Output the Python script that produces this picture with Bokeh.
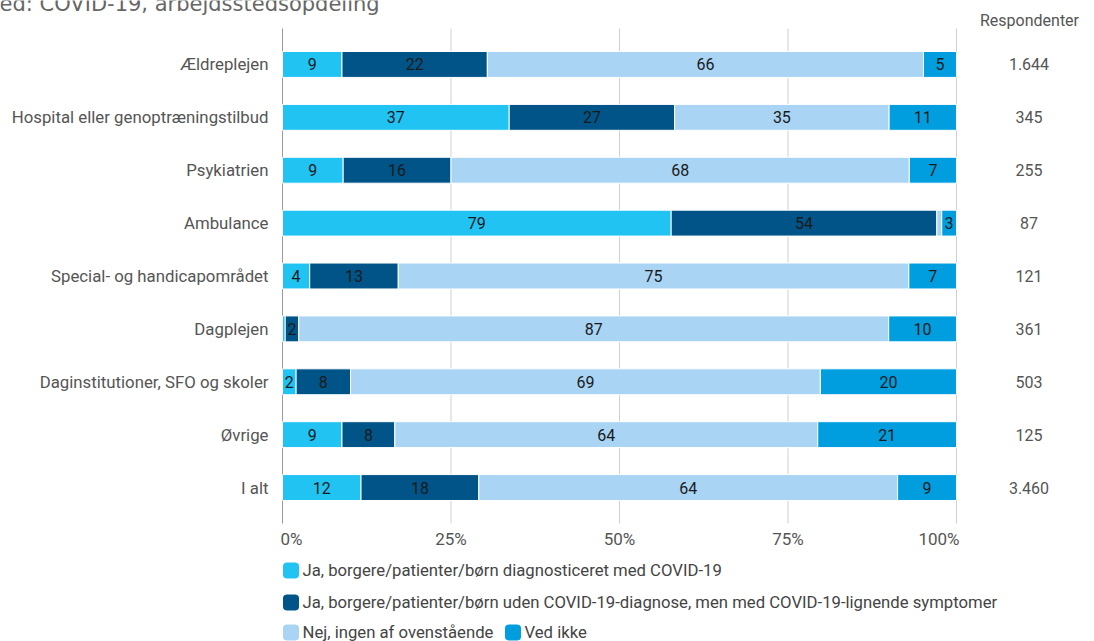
from bokeh.plotting import figure
from bokeh.models import ColumnDataSource, Range1d
from bokeh.embed import file_html
from bokeh.resources import INLINE
from bokeh.core.properties import value

categories = ["Ældreplejen", "Hospital eller genoptræningstilbud", "Psykiatrien", "Ambulance",
              "Special- og handicapområdet", "Dagplejen", "Daginstitutioner, SFO og skoler",
              "Øvrige", "I alt"]
series_names = ["Ja, borgere/patienter/børn diagnosticeret med COVID-19",
                "Ja, borgere/patienter/børn uden COVID-19-diagnose, men med COVID-19-lignende symptomer",
                "Nej, ingen af ovenstående", "Ved ikke"]
diagnosed = [9, 37, 9, 79, 4, 0.4, 2, 9, 12]
symptoms = [22, 27, 16, 54, 13, 2, 8, 8, 18]
none_above = [66, 35, 68, 1, 75, 87, 69, 64, 64]
dont_know = [5, 11, 7, 3, 7, 10, 20, 21, 9]
respondents = ["1.644", "345", "255", "87", "121", "361", "503", "125", "3.460"]
tick_values = [0, 25, 50, 75, 100]
tick_labels = ["0%", "25%", "50%", "75%", "100%"]
colors = ["#21C3F3", "#005488", "#A9D4F4", "#009EDF"]
chart_title = "ed: COVID-19, arbejdsstedsopdeling"
resp_header = "Respondenter"

FONT = "Roboto"
W, H = 1094, 641
n = len(categories)
pos = [n - 1 - i for i in range(n)]
series = [diagnosed, symptoms, none_above, dont_know]
keys = ["s0", "s1", "s2", "s3"]

# canvas geometry: plot area from x=282..956 px (0..100 %), rows 52.885 px apart
PX_X = 6.74            # px per percent
PX_Y = 52.885          # px per category step
FRAME_LEFT = 282
Y_TOP_PX = 28          # top of plot area (px from canvas top)
y_area_top = n - 1 + 0.68
y_area_bot = -0.68

x0 = -FRAME_LEFT / PX_X
x1 = (W - FRAME_LEFT) / PX_X
y1 = y_area_top + Y_TOP_PX / PX_Y
y0 = y1 - H / PX_Y


def X(px):
    return x0 + px / PX_X


def Y(px):
    return y1 - px / PX_Y


data = {"pos": pos}
for k in keys:
    data[k] = []
for i in range(n):
    tot = sum(s[i] for s in series)
    for k, s in zip(keys, series):
        data[k].append(s[i] / tot * 100)
src = ColumnDataSource(data)

p = figure(width=W, height=H, x_range=Range1d(x0, x1), y_range=Range1d(y0, y1),
           output_backend="svg", toolbar_location=None, min_border=0,
           x_axis_location=None, y_axis_location=None)
p.outline_line_color = None
p.grid.visible = False

# grid lines
p.segment(x0=tick_values[1:], y0=[y_area_bot] * 4, x1=tick_values[1:], y1=[y_area_top] * 4,
          line_color="#d0d0d0", line_width=1)
p.segment(x0=[0], y0=[y_area_bot], x1=[0], y1=[y_area_top], line_color="#9a9a9a", line_width=1)

p.hbar_stack(keys, y="pos", height=0.49, color=colors, line_color="white", line_width=1, source=src)

# segment labels
lx, ly, lt = [], [], []
for i in range(n):
    cum = 0
    for k, s in zip(keys, series):
        w = data[k][i]
        if w >= 1.5:
            lx.append(cum + w / 2)
            ly.append(pos[i])
            v = s[i]
            lt.append(str(int(v)) if float(v).is_integer() else str(v))
        cum += w
p.text(x=lx, y=ly, text=lt, text_align="center", text_baseline="middle",
       text_font=value(FONT), text_font_size="16px", text_color="#1a1a1a")

# category labels
p.text(x=[0] * n, y=pos, text=categories, x_offset=-14, text_align="right", text_baseline="middle",
       text_font=value(FONT), text_font_size="16.8px", text_color="#555555")

# respondents column
p.text(x=[X(1028.5)] * n, y=pos, text=respondents, text_align="center", text_baseline="middle",
       text_font=value(FONT), text_font_size="16px", text_color="#555555")
p.text(x=[X(1029)], y=[Y(20)], text=[resp_header], text_align="center", text_baseline="middle",
       text_font=value(FONT), text_font_size="16px", text_color="#555555")

# title, cut off at the top edge as in the reference
p.text(x=[X(-1)], y=[Y(3)], text=[chart_title], text_align="left", text_baseline="alphabetic",
       text_font=value("DejaVu Sans"), text_font_size="21px", text_color="#666666")

# x tick labels
for j, (t, lab) in enumerate(zip(tick_values, tick_labels)):
    align = "left" if j == 0 else ("right" if j == len(tick_values) - 1 else "center")
    off = -2 if j == 0 else (3 if j == len(tick_values) - 1 else 0)
    p.text(x=[t], y=[y_area_bot - 15 / PX_Y], text=[lab], x_offset=off, text_align=align,
           text_baseline="middle", text_font=value(FONT), text_font_size="17px", text_color="#555555")

# legend
sw_left = [283, 283, 283, 505]
sw_y = [570, 602, 632, 632]
p.quad(left=[X(v) for v in sw_left], right=[X(v + 15) for v in sw_left],
       top=[Y(v - 7.5) for v in sw_y], bottom=[Y(v + 7.5) for v in sw_y],
       color=colors, border_radius=3)
p.text(x=[X(v + 19) for v in sw_left], y=[Y(v) for v in sw_y], text=series_names, text_align="left",
       text_baseline="middle", text_font=value(FONT), text_font_size="16.7px", text_color="#444444")

open("out.html", "w").write(file_html(p, INLINE))
